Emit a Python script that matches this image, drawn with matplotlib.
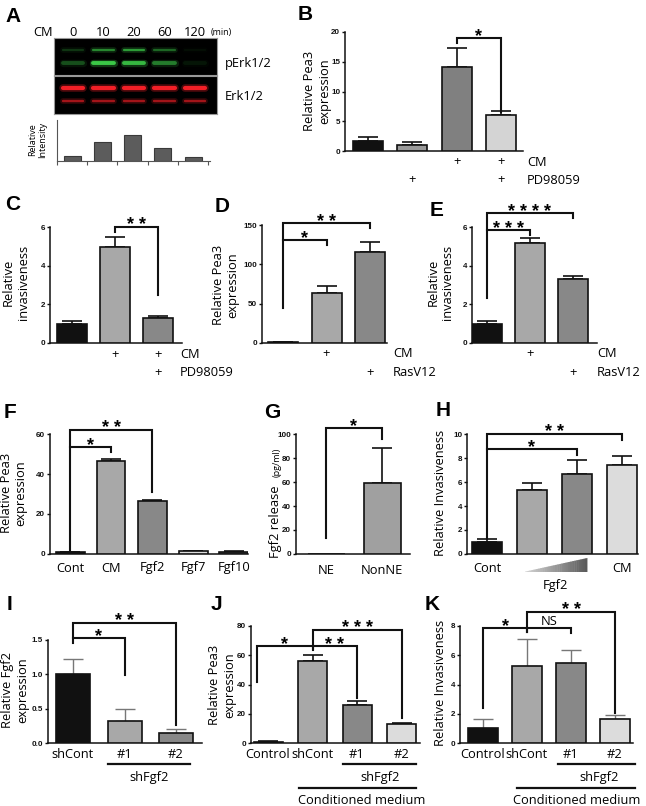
import numpy as np
import matplotlib
matplotlib.use('Agg')
import matplotlib.pyplot as plt
from matplotlib.patches import Polygon

W, H = 646, 806
fig = plt.figure(figsize=(W / 100, H / 100), dpi=100)
fig.patch.set_facecolor('white')

LF = 'Open Sans'
TF = 'Liberation Sans'
LS = 9.3

# ---------------- data ----------------
a_times = ['0', '10', '20', '60', '120']
a_perk_upper = [0.2, 0.55, 0.65, 0.4, 0.05]
a_perk_lower = [0.3, 0.9, 0.8, 0.5, 0.08]
a_erk_upper = [1.0, 1.0, 1.0, 1.0, 1.0]
a_erk_lower = [0.6, 0.6, 0.6, 0.6, 0.6]
a_intensity = [0.18, 0.73, 1.0, 0.51, 0.14]

b_values = [1.7, 1.0, 14.1, 6.0]
b_errors = [0.7, 0.5, 3.2, 0.7]
b_cm = ['', '', '+', '+']
b_pd = ['', '+', '', '+']

c_values = [1.0, 4.95, 1.27]
c_errors = [0.12, 0.55, 0.11]
c_cm = ['', '+', '+']
c_pd = ['', '', '+']

d_values = [1.0, 64.0, 116.0]
d_errors = [0.4, 8.0, 12.0]
d_cm = ['', '+', '']
d_ras = ['', '', '+']

e_values = [1.0, 5.15, 3.33]
e_errors = [0.12, 0.3, 0.12]
e_cm = ['', '+', '']
e_ras = ['', '', '+']

f_labels = ['Cont', 'CM', 'Fgf2', 'Fgf7', 'Fgf10']
f_values = [1.0, 46.7, 26.5, 1.5, 1.2]
f_errors = [0.2, 0.8, 0.3, 0.1, 0.1]

g_labels = ['NE', 'NonNE']
g_values = [0.0, 59.0]
g_errors = [0.0, 29.0]

h_labels = ['Cont', '', '', 'CM']
h_values = [1.0, 5.35, 6.65, 7.4]
h_errors = [0.25, 0.6, 1.15, 0.75]

i_labels = ['shCont', '#1', '#2']
i_values = [1.0, 0.32, 0.15]
i_errors = [0.22, 0.18, 0.06]

j_labels = ['Control', 'shCont', '#1', '#2']
j_values = [1.0, 55.8, 25.8, 13.3]
j_errors = [0.5, 4.7, 2.7, 0.3]

k_labels = ['Control', 'shCont', '#1', '#2']
k_values = [1.0, 5.25, 5.45, 1.65]
k_errors = [0.65, 1.85, 0.9, 0.25]

BLACK = '#111111'
MID = '#a8a8a8'
DARK = '#888888'
LIGHT = '#dcdcdc'


# ---------------- helpers ----------------
def add_ax(box):
    x0, y0, x1, y1 = box
    return fig.add_axes([x0 / W, 1 - y1 / H, (x1 - x0) / W, (y1 - y0) / H])


def yax(box, ypx):
    return (box[3] - ypx) / (box[3] - box[1])


def bar_axes(box, c0, s, ymax, yticks, yticklabels):
    ax = add_ax(box)
    ax.set_xlim((box[0] - c0) / s, (box[2] - c0) / s)
    ax.set_ylim(0, ymax)
    for sp in ['top', 'right']:
        ax.spines[sp].set_visible(False)
    for sp in ['left', 'bottom']:
        ax.spines[sp].set_linewidth(1.1)
        ax.spines[sp].set_color(BLACK)
    ax.set_xticks([])
    ax.set_yticks(yticks)
    ax.set_yticklabels(yticklabels, fontfamily=TF, fontweight='bold', fontsize=5.8)
    ax.tick_params(axis='y', length=2.5, width=1, pad=1, colors=BLACK)
    ax.patch.set_alpha(0)
    return ax


def draw_bars(ax, values, errors, colors, width, ecolor=BLACK, elw=1.2, capsize=7):
    x = np.arange(len(values))
    v = np.array(values, float)
    e = np.array(errors, float)
    m = e > 0
    ax.errorbar(x[m], v[m], yerr=[np.zeros(m.sum()), e[m]], fmt='none', ecolor=ecolor,
                elinewidth=elw, capsize=capsize, capthick=elw, zorder=2, clip_on=False)
    ax.bar(x, v, width=width, color=colors, edgecolor=BLACK, linewidth=1.2, zorder=3)


def bracket(ax, x1, x2, top, yl=None, yr=None, text='', star=True, lw=1.5):
    xs, ys = [], []
    if yl is not None:
        xs.append(x1); ys.append(yl)
    xs += [x1, x2]; ys += [top, top]
    if yr is not None:
        xs.append(x2); ys.append(yr)
    ax.plot(xs, ys, color=BLACK, lw=lw, clip_on=False, solid_joinstyle='miter', zorder=4)
    if text:
        if star:
            ax.annotate(text, xy=((x1 + x2) / 2, top), xytext=(0, -2.5), textcoords='offset points',
                        ha='center', va='baseline', fontfamily=TF, fontweight='bold', fontsize=13,
                        annotation_clip=False)
        else:
            ax.annotate(text, xy=((x1 + x2) / 2, top), xytext=(0, 4.5), textcoords='offset points',
                        ha='center', va='center', fontfamily=LF, fontsize=LS, annotation_clip=False)


def under(ax, box, xd, ypx, s, size=LS, ha='center'):
    ax.text(xd, yax(box, ypx), s, transform=ax.get_xaxis_transform(), ha=ha, va='center',
            fontfamily=LF, fontsize=size, clip_on=False)


def uline(ax, box, x1, x2, ypx, lw=1.6):
    ax.plot([x1, x2], [yax(box, ypx)] * 2, transform=ax.get_xaxis_transform(), color=BLACK,
            lw=lw, clip_on=False)


def ylab(x, y, s, size=LS):
    fig.text(x / W, 1 - y / H, s, rotation=90, ha='center', va='center', fontfamily=LF,
             fontsize=size, multialignment='center', linespacing=1.15)


def letter(x, y, s):
    fig.text(x / W, 1 - y / H, s, ha='center', va='center', fontfamily=TF, fontweight='bold',
             fontsize=15)


def px2d(c0, s, px):
    return (px - c0) / s


# ---------------- Panel A ----------------
letter(13, 16, 'A')
lane_c0, lane_s = 73, 30.5
box_p = (54, 38, 217, 75)
box_e = (54, 76, 217, 114)
for box, up, lo, col, lwu, lwl in [(box_p, a_perk_upper, a_perk_lower, (0.25, 0.85, 0.3), 1.6, 2.8),
                                    (box_e, a_erk_upper, a_erk_lower, (0.95, 0.12, 0.15), 3.0, 1.7)]:
    ax = add_ax(box)
    ax.set_facecolor('black')
    ax.set_xlim(px2d(lane_c0, lane_s, box[0]), px2d(lane_c0, lane_s, box[2]))
    ax.set_ylim(0, 1)
    ax.set_xticks([]); ax.set_yticks([])
    for sp in ax.spines.values():
        sp.set_color('#999999'); sp.set_linewidth(0.8)
    for i, (u, l) in enumerate(zip(up, lo)):
        ax.plot([i - 0.33, i + 0.33], [0.68, 0.68], color=col, alpha=u * 0.3, lw=lwu + 2.5,
                solid_capstyle='round')
        ax.plot([i - 0.33, i + 0.33], [0.68, 0.68], color=col, alpha=u, lw=lwu, solid_capstyle='round')
        ax.plot([i - 0.33, i + 0.33], [0.33, 0.33], color=col, alpha=l * 0.3, lw=lwl + 2.5,
                solid_capstyle='round')
        ax.plot([i - 0.33, i + 0.33], [0.33, 0.33], color=col, alpha=l, lw=lwl, solid_capstyle='round')
    if box is box_p:
        for i, t in enumerate(a_times):
            ax.text(i, 1 + (box[1] - 32) / (box[3] - box[1]), t, ha='center', va='center',
                    fontfamily=LF, fontsize=LS, transform=ax.get_xaxis_transform(), clip_on=False)
fig.text(43 / W, 1 - 32 / H, 'CM', ha='center', va='center', fontfamily=LF, fontsize=LS)
fig.text(211 / W, 1 - 32 / H, '(min)', ha='left', va='center', fontfamily=LF, fontsize=6.5)
fig.text(225 / W, 1 - 63 / H, 'pErk1/2', ha='left', va='center', fontfamily=LF, fontsize=LS)
fig.text(225 / W, 1 - 96 / H, 'Erk1/2', ha='left', va='center', fontfamily=LF, fontsize=LS)

box = (57, 120, 210, 161)
ax = add_ax(box)
ax.set_xlim(px2d(72, 30.25, box[0]), px2d(72, 30.25, box[2]))
ax.set_ylim(0, 1.58)
ax.bar(np.arange(5), a_intensity, width=17 / 30.25, color='#5c5c5c', edgecolor='#3a3a3a', linewidth=0.8)
for sp in ['top', 'right']:
    ax.spines[sp].set_visible(False)
for sp in ['left', 'bottom']:
    ax.spines[sp].set_color('#555555'); ax.spines[sp].set_linewidth(0.8)
ax.set_yticks([])
ax.set_xticks(np.arange(6) - 0.5)
ax.set_xticklabels([])
ax.tick_params(axis='x', length=3, width=0.8, colors='#555555')
ax.patch.set_alpha(0)
ylab(38, 140, 'Relative\nIntensity', size=6.5)

# ---------------- Panel B ----------------
letter(305, 15, 'B')
box = (345, 32, 523, 151)
c0, s = 368, 44.3
ax = bar_axes(box, c0, s, 20, [0, 5, 10, 15, 20], ['0', '5', '10', '15', '20'])
draw_bars(ax, b_values, b_errors, [BLACK, '#9a9a9a', '#808080', '#d4d4d4'], 30 / s)
bracket(ax, 2, 3, 19.0, yl=18.15, yr=6.5, text='*')
for i in range(4):
    under(ax, box, i, 162, b_cm[i])
    under(ax, box, i, 180, b_pd[i])
under(ax, box, px2d(c0, s, 527), 162, 'CM', ha='left')
under(ax, box, px2d(c0, s, 527), 180, 'PD98059', ha='left')
ylab(317, 91, 'Relative Pea3\nexpression')

# ---------------- Panel C ----------------
letter(13, 204, 'C')
box = (50, 227, 182, 343)
c0, s = 72, 43
ax = bar_axes(box, c0, s, 6, [0, 2, 4, 6], ['0', '2', '4', '6'])
draw_bars(ax, c_values, c_errors, [BLACK, MID, DARK], 30 / s)
bracket(ax, 1, 2, 6.0, yl=5.74, yr=2.48, text='* *')
for i in range(3):
    under(ax, box, i, 355, c_cm[i])
    under(ax, box, i, 373, c_pd[i])
under(ax, box, px2d(c0, s, 180), 355, 'CM', ha='left')
under(ax, box, px2d(c0, s, 180), 373, 'PD98059', ha='left')
ylab(16, 282, 'Relative\ninvasiveness')

# ---------------- Panel D ----------------
letter(222, 207, 'D')
box = (262, 225, 387, 343)
c0, s = 283, 43.5
ax = bar_axes(box, c0, s, 150, [0, 50, 100, 150], ['0', '50', '100', '150'])
draw_bars(ax, d_values, d_errors, [BLACK, MID, DARK], 30 / s)
bracket(ax, 0, 2, 152.5, yl=44.5, yr=146, text='* *')
bracket(ax, 0, 1, 131, yr=124.6, text='*')
for i in range(3):
    under(ax, box, i, 354, d_cm[i])
    under(ax, box, i, 373, d_ras[i])
under(ax, box, px2d(c0, s, 393), 354, 'CM', ha='left')
under(ax, box, px2d(c0, s, 393), 373, 'RasV12', ha='left')
ylab(226, 285, 'Relative Pea3\nexpression')

# ---------------- Panel E ----------------
letter(437, 210, 'E')
box = (472, 227, 597, 343)
c0, s = 487, 43
ax = bar_axes(box, c0, s, 6, [0, 2, 4, 6], ['0', '2', '4', '6'])
draw_bars(ax, e_values, e_errors, [BLACK, MID, DARK], 30 / s)
bracket(ax, 0, 2, 6.72, yl=2.33, yr=6.47, text='* * * *')
bracket(ax, 0, 1, 5.84, yr=5.59, text='* * *')
for i in range(3):
    under(ax, box, i, 354, e_cm[i])
    under(ax, box, i, 373, e_ras[i])
under(ax, box, px2d(c0, s, 597), 354, 'CM', ha='left')
under(ax, box, px2d(c0, s, 597), 373, 'RasV12', ha='left')
ylab(440, 282, 'Relative\ninvasiveness')

# ---------------- Panel F ----------------
letter(10, 412, 'F')
box = (50, 434, 248, 554)
c0, s = 70, 41
ax = bar_axes(box, c0, s, 60, [0, 20, 40, 60], ['0', '20', '40', '60'])
draw_bars(ax, f_values, f_errors, [BLACK, MID, DARK, LIGHT, '#4a4a4a'], 29 / s)
bracket(ax, 0, 2, 62, yl=2.0, yr=31, text='* *')
bracket(ax, 0, 1, 53.5, yr=51, text='*')
for i, t in enumerate(f_labels):
    under(ax, box, i, 568, t)
ylab(14, 493, 'Relative Pea3\nexpression')

# ---------------- Panel G ----------------
letter(272, 412, 'G')
box = (296, 434, 410, 554)
c0, s = 326, 56
ax = bar_axes(box, c0, s, 100, [0, 20, 40, 60, 80, 100], ['0', '20', '40', '60', '80', '100'])
draw_bars(ax, g_values, g_errors, [MID, '#a0a0a0'], 37 / s)
bracket(ax, 0, 1, 105, yl=13.3, yr=96, text='*')
for i, t in enumerate(g_labels):
    under(ax, box, i, 570, t)
fig.text(276 / W, 1 - 558 / H, 'Fgf2 release', rotation=90, ha='center', va='bottom',
         fontfamily=LF, fontsize=LS)
fig.text(277 / W, 1 - 477 / H, '(pg/ml)', rotation=90, ha='center', va='bottom',
         fontfamily=LF, fontsize=6.5)

# ---------------- Panel H ----------------
letter(443, 411, 'H')
box = (467, 434, 638, 554)
c0, s = 487, 45
ax = bar_axes(box, c0, s, 10, [0, 2, 4, 6, 8, 10], ['0', '2', '4', '6', '8', '10'])
draw_bars(ax, h_values, h_errors, [BLACK, MID, DARK, LIGHT], 30 / s)
bracket(ax, 0, 3, 10.0, yl=1.33, yr=9.5, text='* *')
bracket(ax, 0, 2, 8.75, yr=8.25, text='*')
for i, t in enumerate(h_labels):
    under(ax, box, i, 568, t)
# wedge for increasing Fgf2 dose
wx0, wx1 = px2d(c0, s, 523), px2d(c0, s, 587)
yb, yt = yax(box, 572), yax(box, 558)
nseg = 30
tr = ax.get_xaxis_transform()
for k in range(nseg):
    xa = wx0 + (wx1 - wx0) * k / nseg
    xb = wx0 + (wx1 - wx0) * (k + 1) / nseg
    ya = yb + (yt - yb) * k / nseg
    ybb = yb + (yt - yb) * (k + 1) / nseg
    g = 0.85 - 0.5 * (k + 0.5) / nseg
    ax.add_patch(Polygon([[xa, yb], [xb + 0.01, yb], [xb + 0.01, ybb], [xa, ya]], closed=True,
                         facecolor=(g, g, g), edgecolor='none', transform=tr, clip_on=False))
under(ax, box, px2d(c0, s, 555), 585, 'Fgf2')
ylab(440, 493, 'Relative Invasiveness')

# ---------------- Panel I ----------------
letter(9, 605, 'I')
box = (48, 640, 202, 743)
c0, s = 73, 51.5
ax = bar_axes(box, c0, s, 1.5, [0, 0.5, 1.0, 1.5], ['0.0', '0.5', '1.0', '1.5'])
draw_bars(ax, i_values, i_errors, [BLACK, MID, DARK], 34 / s, ecolor='#777777', elw=1.0)
bracket(ax, 0, 2, 1.75, yl=1.456, yr=0.262, text='* *')
bracket(ax, 0, 1, 1.53, yr=0.99, text='*')
for i, t in enumerate(i_labels):
    under(ax, box, i, 755, t)
uline(ax, box, px2d(c0, s, 108), px2d(c0, s, 190), 764)
under(ax, box, px2d(c0, s, 149), 777, 'shFgf2')
ylab(15, 690, 'Relative Fgf2\nexpression')

# ---------------- Panel J ----------------
letter(216, 605, 'J')
box = (251, 626, 420, 743)
c0, s = 268, 44.5
ax = bar_axes(box, c0, s, 80, [0, 20, 40, 60, 80], ['0', '20', '40', '60', '80'])
draw_bars(ax, j_values, j_errors, [BLACK, MID, DARK, LIGHT], 29 / s)
bracket(ax, 1, 3, 77.3, yl=64, yr=17, text='* * *')
bracket(ax, -0.25, 1, 66.3, yl=41.7, yr=63.6, text='*')
bracket(ax, 1, 2, 66.3, yr=31, text='* *')
for i, t in enumerate(j_labels):
    under(ax, box, i, 754, t)
uline(ax, box, px2d(c0, s, 343), px2d(c0, s, 416), 764)
under(ax, box, px2d(c0, s, 380), 777, 'shFgf2')
uline(ax, box, px2d(c0, s, 299), px2d(c0, s, 416), 788)
under(ax, box, px2d(c0, s, 362), 800, 'Conditioned medium')
ylab(222, 685, 'Relative Pea3\nexpression')

# ---------------- Panel K ----------------
letter(432, 605, 'K')
box = (460, 626, 633, 743)
c0, s = 483, 44
ax = bar_axes(box, c0, s, 8, [0, 2, 4, 6, 8], ['0', '2', '4', '6', '8'])
draw_bars(ax, k_values, k_errors, [BLACK, MID, DARK, LIGHT], 30 / s, ecolor='#777777', elw=1.0)
bracket(ax, 1, 3, 8.96, yl=7.59, yr=2.05, text='* *')
bracket(ax, 0, 1, 7.86, yl=2.39, yr=7.59, text='*')
bracket(ax, 1, 2, 7.86, yr=7.52, text='NS', star=False)
for i, t in enumerate(k_labels):
    under(ax, box, i, 754, t)
uline(ax, box, px2d(c0, s, 558), px2d(c0, s, 635), 764)
under(ax, box, px2d(c0, s, 599), 777, 'shFgf2')
uline(ax, box, px2d(c0, s, 517), px2d(c0, s, 635), 788)
under(ax, box, px2d(c0, s, 577), 800, 'Conditioned medium')
ylab(441, 683, 'Relative Invasiveness')

fig.savefig('out.png', dpi=100, facecolor='white')
